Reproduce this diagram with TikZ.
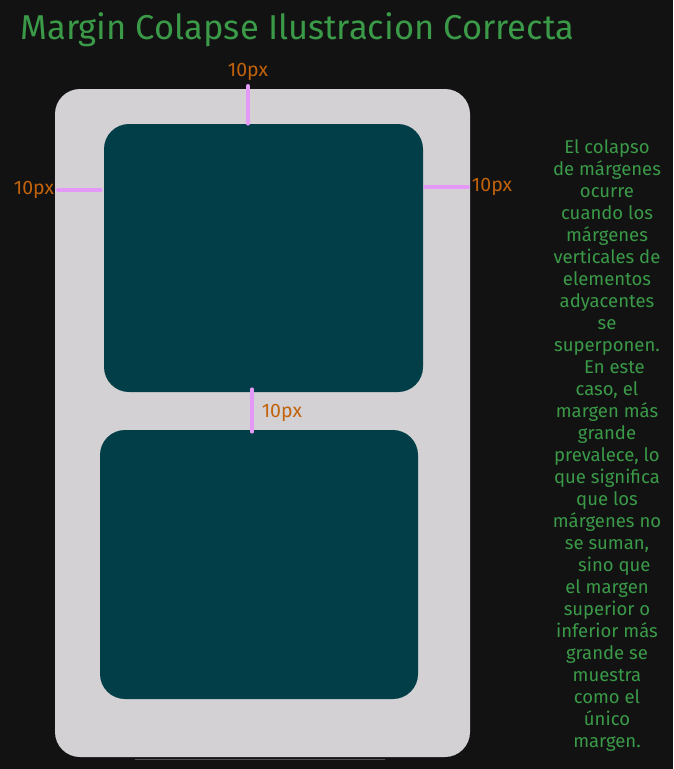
\documentclass[tikz,border=0pt]{standalone}
\usepackage{fontspec}
\setmainfont{Fira Sans}
\definecolor{bgdark}{HTML}{121212}
\definecolor{boxgray}{HTML}{D3D1D4}
\definecolor{boxteal}{HTML}{023E48}
\definecolor{marginpink}{HTML}{E599F7}
\definecolor{labelorange}{HTML}{C2620A}
\definecolor{notegreen}{HTML}{3A9A48}
\tikzset{
  box/.style={rounded corners=25pt, inner sep=0pt},
  marginline/.style={marginpink, line width=3.5pt, line cap=round},
  pxlabel/.style={labelorange, font=\fontsize{19.5}{22}\selectfont, inner sep=2pt}
}
\begin{document}
\begin{tikzpicture}[x=1pt,y=-1pt]
		\fill[bgdark] (0,0) rectangle (673,769);

		\node[notegreen, font=\fontsize{34.5}{38}\selectfont, anchor=west] (title) at (17,30) {Margin Colapse Ilustracion Correcta};

		\draw[gray, opacity=0.6, line width=1pt] (135,759.5) -- (385,759.5);
		\node[box, fill=boxgray, minimum width=415pt, minimum height=668pt] (outer) at (262.5,423) {};
		\node[box, fill=boxteal, minimum width=319pt, minimum height=268pt] (upper) at (263.5,258) {};
		\node[box, fill=boxteal, minimum width=318pt, minimum height=269pt] (lower) at (259,564.5) {};

		\coordinate (mt) at (248,0);
		\coordinate (ml) at (0,190);
		\coordinate (mr) at (0,187);
		\coordinate (mm) at (252,0);

		\draw[marginline] ([yshift=3pt]outer.north -| mt) -- (upper.north -| mt) node[pos=0, above, pxlabel, yshift=1pt] {10px};
		\draw[marginline] ([xshift=3pt]outer.west |- ml) node[left, pxlabel] {10px} -- ([xshift=-3pt]upper.west |- ml);
		\draw[marginline] ([xshift=2pt]upper.east |- mr) -- ([xshift=-2pt]outer.east |- mr) node[right, pxlabel] {10px};
		\draw[marginline] ([yshift=3pt]upper.south -| mm) -- ([yshift=-2pt]lower.north -| mm) node[midway, right, pxlabel, xshift=6pt, yshift=-2pt] {10px};

		\node[notegreen, font=\fontsize{18.5}{22}\selectfont, align=center, anchor=north] (note) at (607,136) {El colapso\\de márgenes\\ocurre\\cuando los\\márgenes\\verticales de\\elementos\\adyacentes\\se\\superponen.\\\hspace*{0.8em}En este\\caso, el\\margen más\\grande\\prevalece, lo\\que significa\\que los\\márgenes no\\se suman,\\\hspace*{0.8em}sino que\\el margen\\superior o\\inferior más\\grande se\\muestra\\como el\\único\\margen.};
	\end{tikzpicture}
\end{document}
